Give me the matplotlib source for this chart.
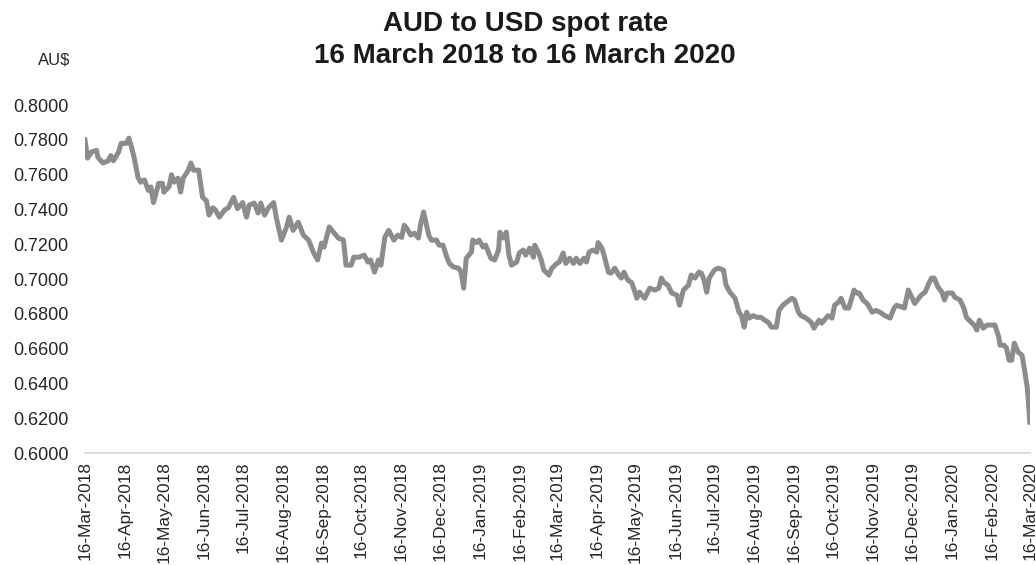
# AUD to USD spot rate, 16 Mar 2018 - 16 Mar 2020
import pandas as pd
import matplotlib.pyplot as plt
import matplotlib.dates as mdates
from matplotlib.ticker import FormatStrFormatter

plt.rcParams['font.family'] = ['Liberation Sans', 'DejaVu Sans']

start = pd.Timestamp('2018-03-16')
end = pd.Timestamp('2020-03-16')

# days after 16-Mar-2018 and the spot rate
days_since_start = [
    0, 2, 5, 9, 10, 14, 18, 20, 22, 26, 28, 32, 34, 36, 38, 41, 43, 46, 49, 51,
    53, 57, 60, 61, 65, 67, 69, 72, 74, 76, 80, 82, 84, 88, 91, 94, 96, 99, 101, 104,
    108, 111, 115, 118, 122, 125, 127, 131, 134, 136, 139, 142, 146, 148, 152, 156, 158, 161, 165, 169,
    173, 177, 180, 183, 185, 189, 193, 196, 200, 202, 206, 208, 212, 216, 219, 221, 224, 227, 229, 232,
    235, 239, 242, 245, 247, 250, 252, 255, 258, 260, 262, 266, 268, 272, 274, 277, 280, 282, 285, 289,
    291, 293, 295, 299, 300, 303, 305, 308, 310, 314, 317, 320, 321, 324, 326, 328, 330, 334, 336, 339,
    341, 344, 347, 348, 351, 353, 355, 359, 361, 365, 367, 370, 372, 375, 378, 380, 383, 386, 388, 390,
    393, 396, 397, 400, 402, 405, 407, 410, 413, 415, 417, 420, 423, 425, 427, 429, 433, 437, 441, 444,
    446, 448, 451, 454, 458, 460, 463, 467, 469, 472, 475, 477, 479, 481, 483, 487, 490, 494, 496, 499,
    503, 506, 508, 510, 512, 514, 517, 520, 523, 526, 529, 531, 535, 537, 540, 543, 547, 549, 552, 554,
    557, 560, 562, 564, 568, 570, 572, 575, 578, 580, 583, 585, 588, 591, 595, 597, 599, 602, 605, 606,
    609, 612, 615, 619, 623, 626, 628, 632, 634, 637, 640, 642, 645, 647, 650, 653, 655, 657, 660, 663,
    665, 667, 671, 673, 677, 680, 682, 684, 688, 690, 692, 695, 698, 702, 704, 707, 708, 711, 713, 715,
    717, 719, 722, 725, 727, 729, 730, 731,
]
aud_usd = [
    0.7800, 0.7695, 0.7730, 0.7740, 0.7700, 0.7667, 0.7680, 0.7710, 0.7680, 0.7730,
    0.7780, 0.7780, 0.7810, 0.7760, 0.7700, 0.7586, 0.7557, 0.7570, 0.7510, 0.7530,
    0.7440, 0.7550, 0.7550, 0.7500, 0.7530, 0.7600, 0.7557, 0.7580, 0.7500, 0.7580,
    0.7626, 0.7667, 0.7626, 0.7626, 0.7470, 0.7450, 0.7368, 0.7410, 0.7397, 0.7356,
    0.7397, 0.7410, 0.7470, 0.7405, 0.7440, 0.7356, 0.7425, 0.7437, 0.7380, 0.7437,
    0.7368, 0.7410, 0.7440, 0.7356, 0.7224, 0.7300, 0.7356, 0.7280, 0.7327, 0.7253,
    0.7224, 0.7150, 0.7110, 0.7207, 0.7184, 0.7300, 0.7264, 0.7236, 0.7224, 0.7080,
    0.7080, 0.7126, 0.7126, 0.7138, 0.7098, 0.7110, 0.7040, 0.7110, 0.7080, 0.7240,
    0.7280, 0.7224, 0.7253, 0.7240, 0.7310, 0.7280, 0.7253, 0.7264, 0.7236, 0.7327,
    0.7385, 0.7253, 0.7224, 0.7224, 0.7195, 0.7195, 0.7126, 0.7090, 0.7070, 0.7063,
    0.7040, 0.6948, 0.7120, 0.7155, 0.7224, 0.7210, 0.7224, 0.7184, 0.7195, 0.7120,
    0.7110, 0.7167, 0.7270, 0.7236, 0.7270, 0.7138, 0.7080, 0.7098, 0.7150, 0.7167,
    0.7138, 0.7178, 0.7126, 0.7195, 0.7150, 0.7110, 0.7052, 0.7023, 0.7060, 0.7090,
    0.7098, 0.7150, 0.7090, 0.7120, 0.7090, 0.7120, 0.7090, 0.7120, 0.7098, 0.7155,
    0.7167, 0.7155, 0.7210, 0.7178, 0.7126, 0.7040, 0.7034, 0.7063, 0.7023, 0.7006,
    0.7040, 0.6994, 0.6980, 0.6937, 0.6890, 0.6925, 0.6890, 0.6948, 0.6937, 0.6948,
    0.7006, 0.6980, 0.6966, 0.6920, 0.6908, 0.6850, 0.6937, 0.6966, 0.7023, 0.7006,
    0.7040, 0.7034, 0.6994, 0.6925, 0.7006, 0.7052, 0.7063, 0.7052, 0.6966, 0.6925,
    0.6890, 0.6810, 0.6790, 0.6724, 0.6810, 0.6776, 0.6790, 0.6780, 0.6780, 0.6764,
    0.6750, 0.6724, 0.6724, 0.6820, 0.6850, 0.6868, 0.6890, 0.6880, 0.6810, 0.6790,
    0.6780, 0.6764, 0.6750, 0.6718, 0.6764, 0.6747, 0.6764, 0.6790, 0.6776, 0.6850,
    0.6868, 0.6890, 0.6834, 0.6834, 0.6937, 0.6920, 0.6920, 0.6880, 0.6860, 0.6850,
    0.6810, 0.6820, 0.6810, 0.6790, 0.6776, 0.6834, 0.6850, 0.6840, 0.6834, 0.6937,
    0.6890, 0.6860, 0.6890, 0.6908, 0.6925, 0.6977, 0.7006, 0.7006, 0.6954, 0.6925,
    0.6880, 0.6920, 0.6920, 0.6896, 0.6880, 0.6834, 0.6780, 0.6764, 0.6736, 0.6707,
    0.6764, 0.6718, 0.6736, 0.6736, 0.6736, 0.6667, 0.6620, 0.6620, 0.6603, 0.6534,
    0.6534, 0.6632, 0.6580, 0.6563, 0.6476, 0.6379, 0.6287, 0.6178,
]

dates = start + pd.to_timedelta(days_since_start, unit='D')
month_ticks = pd.date_range(start, end, freq=pd.DateOffset(months=1))

fig = plt.figure(figsize=(10.36, 5.65), dpi=100)
ax = fig.add_axes([0.082, 0.198, 0.912, 0.616])

ax.plot(dates, aud_usd, color='#8c8c8c', linewidth=3.6, solid_joinstyle='round')

ax.set_xlim(start, end)
ax.set_ylim(0.6, 0.8)
ax.set_yticks([0.6 + 0.02 * i for i in range(11)])
ax.yaxis.set_major_formatter(FormatStrFormatter('%.4f'))
ax.set_xticks(month_ticks)
ax.xaxis.set_major_formatter(mdates.DateFormatter('%d-%b-%Y'))

for s in ['top', 'right', 'left']:
    ax.spines[s].set_visible(False)
ax.spines['bottom'].set_color('#d9d9d9')
ax.spines['bottom'].set_linewidth(1.3)

ax.tick_params(axis='y', length=0, pad=12, labelsize=13, labelcolor='#262626')
ax.tick_params(axis='x', length=0, pad=6, labelsize=12.4, labelcolor='#262626',
               labelrotation=90)

# title and unit label
fig.text(0.507, 0.930, 'AUD to USD spot rate\n16 March 2018 to 16 March 2020',
         ha='center', va='center', fontsize=20, fontweight='bold', linespacing=1.3,
         color='#1a1a1a')
fig.text(0.052, 0.894, 'AU$', ha='center', va='center', fontsize=12, color='#262626')

fig.savefig('out.png', dpi=100)
